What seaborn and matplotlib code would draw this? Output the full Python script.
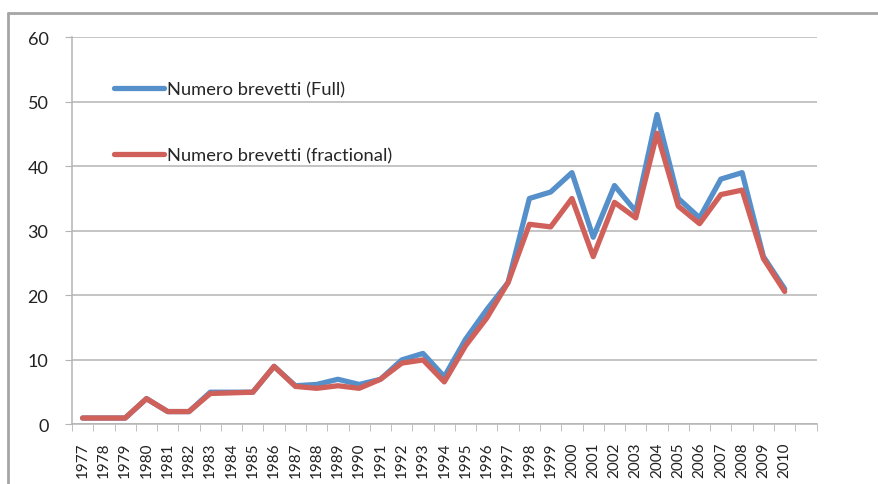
import matplotlib
matplotlib.use("Agg")
from matplotlib import pyplot as plt
from matplotlib.lines import Line2D
import pandas as pd
import seaborn as sns

years = list(range(1977, 2011))
full = [1, 1, 1, 4, 2, 2, 5, 5, 5, 9, 6, 6.2, 7, 6.2, 7, 10, 11, 7.4, 13.2, 17.8,
        22, 35, 36, 39, 29, 37, 33, 48, 35, 32, 38, 39, 26, 21]
fractional = [1, 1, 1, 4, 2, 2, 4.8, 4.9, 5, 9, 5.9, 5.6, 6, 5.6, 7, 9.5, 10, 6.6, 12.2, 16.5,
              22, 31, 30.6, 35, 26, 34.4, 32, 45.1, 33.8, 31.1, 35.6, 36.3, 25.7, 20.6]
labels = ["Numero brevetti (Full)", "Numero brevetti (fractional)"]

df = pd.DataFrame({
    "Anno": years * 2,
    "Valore": full + fractional,
    "Serie": [labels[0]] * len(years) + [labels[1]] * len(years),
})

sns.set_style("white")
plt.rcParams['font.family'] = ['Lato', 'DejaVu Sans']

fig = plt.figure(figsize=(8.79, 4.85), dpi=100)
ax = fig.add_axes([0.0819, 0.1227, 0.929 - 0.0819, 0.9216 - 0.1227])

palette = {labels[0]: "#5590CA", labels[1]: "#D0605A"}
sns.lineplot(data=df, x="Anno", y="Valore", hue="Serie", palette=palette,
             linewidth=3.8, ax=ax, legend=False)

grid_col = "#b4b4b4"
ax.set_ylim(0, 60)
ax.set_yticks(range(0, 61, 10))
ax.yaxis.grid(True, color=grid_col, linewidth=1.1)
ax.set_axisbelow(True)
ax.set_xlim(1976.5, 2011.5)
ax.set_xticks(years)
ax.set_xticklabels([str(y) for y in years], rotation=90)
ax.set_xticks([y - 0.5 for y in years] + [2010.5, 2011.5], minor=True)
ax.tick_params(axis="x", which="major", length=0, labelsize=11, pad=12, colors="#222222")
ax.tick_params(axis="x", which="minor", length=5, color=grid_col, direction="out", bottom=True)
ax.tick_params(axis="y", length=5, color=grid_col, labelsize=13, pad=12, colors="#222222", left=True)
ax.set_xlabel("")
ax.set_ylabel("")
for s in ["top", "right"]:
    ax.spines[s].set_visible(False)
for s in ["left", "bottom"]:
    ax.spines[s].set_color(grid_col)
    ax.spines[s].set_linewidth(1.1)

handles = [Line2D([], [], color=palette[l], linewidth=3.8, solid_capstyle="round") for l in labels]
ax.legend(handles, labels, loc="upper left", bbox_to_anchor=(107 / 879, 1 - 75 / 485),
          bbox_transform=fig.transFigure, frameon=False, fontsize=13.2,
          handlelength=2.7, handletextpad=0.2, labelspacing=2.7, borderaxespad=0)

# outer chart frame (cut at right and bottom)
fig.add_artist(Line2D([8 / 879, 8 / 879], [0, 1 - 14 / 485], transform=fig.transFigure,
                      color="#a6a6a6", linewidth=2))
fig.add_artist(Line2D([8 / 879, 1], [1 - 14 / 485, 1 - 14 / 485], transform=fig.transFigure,
                      color="#a6a6a6", linewidth=2))

fig.savefig("out.png", dpi=100)
